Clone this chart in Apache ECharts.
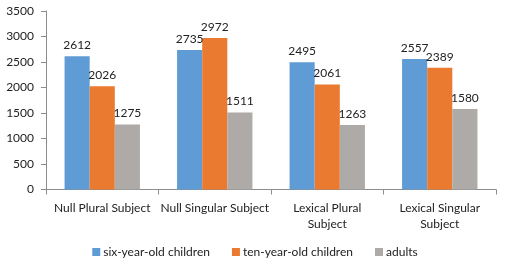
<!DOCTYPE html>
<html>
<head>
<meta charset="utf-8">
<script src="https://cdn.jsdelivr.net/npm/echarts@6/dist/echarts.min.js"></script>
<style>
  html, body { margin: 0; padding: 0; background: #fff; }
  #chart { width: 510px; height: 271px; }
</style>
</head>
<body>
<div id="chart"></div>
<script>
var categories = ['Null Plural Subject', 'Null Singular Subject', 'Lexical Plural\nSubject', 'Lexical Singular\nSubject'];
var seriesNames = ['six-year-old children', 'ten-year-old children', 'adults'];
var sixYearOld = [2612, 2735, 2495, 2557];
var tenYearOld = [2026, 2972, 2061, 2389];
var adults = [1275, 1511, 1263, 1580];
var colors = ['#5F9CD6', '#EA7A2F', '#AEAAA7'];

var font = 'Lato, "Open Sans", sans-serif';

function barSeries(name, data, color) {
    return {
        name: name,
        type: 'bar',
        data: data,
        barGap: '0%',
        barCategoryGap: '33%',
        itemStyle: { color: color },
        label: {
            show: true,
            position: 'top',
            distance: 5,
            color: '#222',
            fontSize: 12,
            fontFamily: font
        }
    };
}

var chart = echarts.init(document.getElementById('chart'));
chart.setOption({
    animation: false,
    textStyle: { fontFamily: font },
    grid: { left: 46, right: 14, top: 11, bottom: 81.5 },
    legend: {
        bottom: 8,
        left: 'center',
        icon: 'rect',
        itemWidth: 8,
        itemHeight: 8,
        itemGap: 22,
        textStyle: { color: '#222', fontSize: 12, fontFamily: font, padding: [0, 0, 0, -2] },
        data: seriesNames
    },
    xAxis: {
        type: 'category',
        data: categories,
        axisLine: { lineStyle: { color: '#8c8c8c' } },
        axisTick: { show: true, length: 5, lineStyle: { color: '#8c8c8c' } },
        axisLabel: { color: '#222', fontSize: 12, fontFamily: font, margin: 11, lineHeight: 16, interval: 0 }
    },
    yAxis: {
        type: 'value',
        min: 0,
        max: 3500,
        interval: 500,
        splitLine: { show: false },
        axisLine: { show: true, lineStyle: { color: '#8c8c8c' } },
        axisTick: { show: true, length: 5, lineStyle: { color: '#8c8c8c' } },
        axisLabel: {
            color: '#222', fontSize: 12, fontFamily: font, margin: 12,
            formatter: function (v) { return String(v); }
        }
    },
    series: [
        barSeries(seriesNames[0], sixYearOld, colors[0]),
        barSeries(seriesNames[1], tenYearOld, colors[1]),
        barSeries(seriesNames[2], adults, colors[2])
    ]
});
</script>
</body>
</html>
